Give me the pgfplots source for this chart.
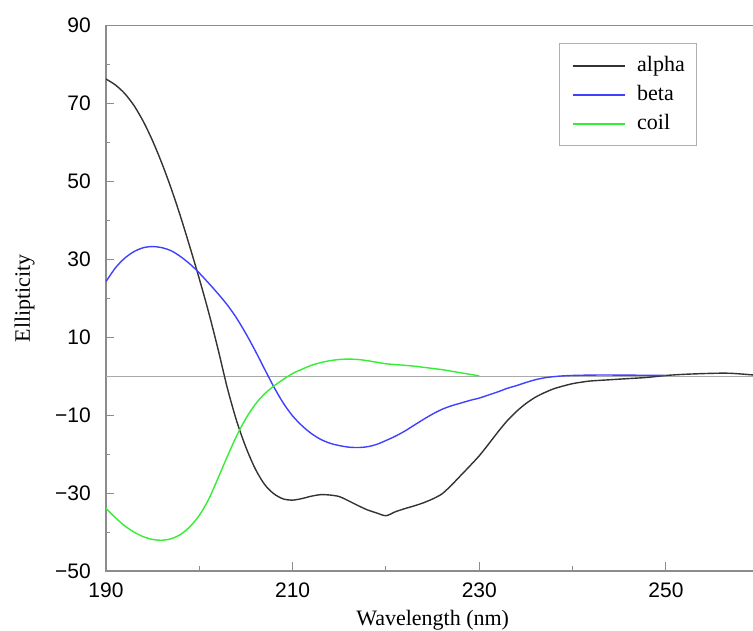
\documentclass[border=0pt]{standalone}
\usepackage{fontspec}
\setmainfont{Liberation Serif}
\newfontfamily\ticksf{Liberation Sans}
\usepackage{pgfplots}
\usepackage{pgfplotstable}
\pgfplotsset{compat=1.18}
\definecolor{alphac}{HTML}{333333}
\definecolor{betac}{HTML}{4040FF}
\definecolor{coilc}{HTML}{33EE33}
\definecolor{axc}{HTML}{8C8C8C}
\definecolor{zeroc}{HTML}{AAAAAA}

\pgfplotstableread{
x y
190 76.3
191 74.8
192 72.6
193 69.5
194 65.4
195 60.4
196 54.6
197 48.1
198 40.9
199 33.1
200 25.0
201 16.4
202 7.0
203 -3.0
204 -11.5
205 -18.3
206 -23.8
207 -27.8
208 -30.2
209 -31.5
210 -31.8
211 -31.4
212 -30.8
213 -30.4
214 -30.5
215 -30.9
216 -32.0
217 -33.2
218 -34.3
219 -35.1
220 -35.8
221 -34.8
222 -34.0
223 -33.3
224 -32.5
225 -31.5
226 -30.2
227 -28.0
228 -25.5
229 -23.0
230 -20.4
231 -17.4
232 -14.3
233 -11.4
234 -9.0
235 -7.0
236 -5.4
237 -4.2
238 -3.2
239 -2.5
240 -1.9
241 -1.5
242 -1.2
244 -0.9
246 -0.6
248 -0.3
250 0.2
252 0.5
255 0.75
257 0.75
260 0.2
}\alphadata

\pgfplotstableread{
x y
190 24.3
191 27.8
192 30.3
193 32.0
194 33.0
195 33.3
196 33.0
197 32.2
198 30.7
199 28.8
200 26.5
201 23.9
202 21.2
203 18.3
204 14.9
205 10.9
206 6.5
207 1.8
208 -2.8
209 -6.9
210 -10.2
211 -12.7
212 -14.7
213 -16.2
214 -17.2
215 -17.8
216 -18.2
217 -18.3
218 -18.1
219 -17.5
220 -16.5
221 -15.4
222 -14.1
223 -12.6
224 -11.1
225 -9.7
226 -8.5
227 -7.6
228 -6.9
229 -6.2
230 -5.6
231 -4.8
232 -4.0
233 -3.1
234 -2.4
235 -1.6
236 -0.9
237 -0.4
238 -0.1
239 0.1
240 0.2
242 0.3
245 0.3
250 0.2
}\betadata

\pgfplotstableread{
x y
190 -33.9
191 -36.3
192 -38.4
193 -40.0
194 -41.2
195 -41.9
196 -42.1
197 -41.7
198 -40.6
199 -38.6
200 -35.7
201 -31.6
202 -26.2
203 -20.6
204 -15.3
205 -10.8
206 -7.2
207 -4.5
208 -2.5
209 -0.8
210 0.7
211 1.8
212 2.8
213 3.5
214 4.0
215 4.3
216 4.4
217 4.3
218 4.0
219 3.6
220 3.2
221 3.0
222 2.8
223 2.6
224 2.3
225 2.0
226 1.7
227 1.3
228 0.9
229 0.5
230 0.1
}\coildata

\pgfplotstableread{
x y
190 0
260 0
}\zerodata

\begin{document}
\begin{tikzpicture}
\begin{axis}[
  at={(0pt,0pt)}, anchor=south west,
  scale only axis, width=653.3pt, height=545.3pt,
  xmin=190, xmax=260, ymin=-50, ymax=90,
  xtick={190,210,230,250}, xticklabels={190,210,230,250},
  minor xtick={200,220,240},
  ytick={-50,-30,-10,10,30,50,70,90},
  yticklabels={−50,−30,−10,10,30,50,70,90},
  minor ytick={-40,-20,0,20,40,60,80},
  tick align=inside, tick pos=left,
  major tick length=8.5pt, minor tick length=4.5pt,
  every tick/.style={axc, line width=1pt},
  axis line style={axc, line width=1.2pt},
  tick label style={font=\fontsize{21}{21}\ticksf},
  yticklabel style={anchor=east, inner sep=0pt, xshift=-15pt},
  xticklabel style={anchor=north, inner sep=0pt, yshift=-12pt},
  xlabel={Wavelength (nm)},
  ylabel={Ellipticity},
  label style={font=\fontsize{22}{22}\selectfont},
  xlabel style={at={([yshift=-55pt]axis description cs:0.5,0)}, anchor=base},
  ylabel style={at={([xshift=-76pt]axis description cs:0,0.5)}, anchor=base, rotate=0},
  legend style={at={(axis description cs:0.6939,0.9677)}, anchor=north west,
    draw=axc!70, line width=1pt, fill=white,
    font=\fontsize{22}{22}\selectfont,
    inner xsep=12pt, inner ysep=14.5pt, row sep=14pt,
    nodes={inner sep=0pt, text height=13pt, text depth=2pt}},
  legend cell align=left,
  legend image code/.code={\draw[#1, line width=1.4pt] (0pt,0pt) -- (52pt,0pt);},
]
\addplot[zeroc, line width=1.2pt, forget plot] table[x=x,y=y] {\zerodata};
\addplot[alphac, line width=1.4pt, smooth, tension=0.5] table[x=x,y=y] {\alphadata};
\addlegendentry{\hspace{12pt}alpha\hspace{7pt}}
\addplot[betac, line width=1.4pt, smooth, tension=0.5] table[x=x,y=y] {\betadata};
\addlegendentry{\hspace{12pt}beta}
\addplot[coilc, line width=1.4pt, smooth, tension=0.5] table[x=x,y=y] {\coildata};
\addlegendentry{\hspace{12pt}coil}
\end{axis}
\pgfresetboundingbox
\path[use as bounding box] (-106pt,-60pt) rectangle (647pt,571pt);
\end{tikzpicture}
\end{document}
